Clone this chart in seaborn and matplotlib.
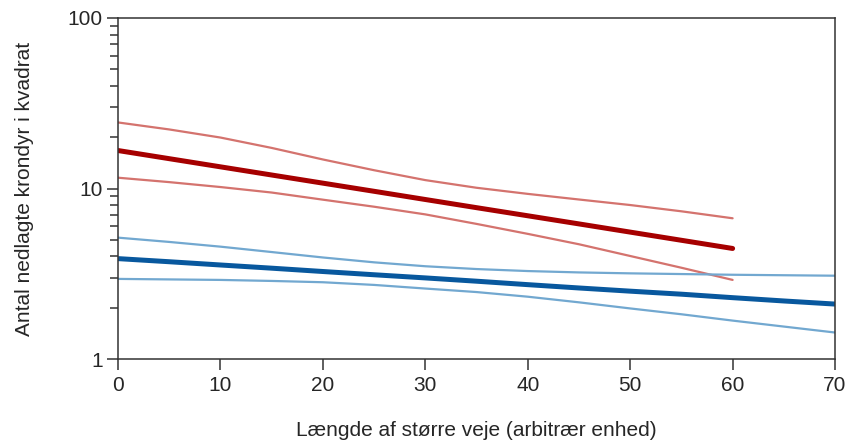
import numpy as np
import seaborn as sns
import matplotlib.pyplot as plt
from matplotlib.ticker import LogLocator, FixedLocator, NullFormatter

# data (x = vejlængde, y = antal krondyr)
x_red = [0, 5, 10, 15, 20, 25, 30, 35, 40, 45, 50, 55, 60]
red_mid = [16.7, 14.96, 13.4, 12.0, 10.75, 9.63, 8.62, 7.72, 6.92, 6.2, 5.55, 4.97, 4.45]
red_hi = [24.4, 22.2, 19.9, 17.3, 14.8, 12.8, 11.2, 10.1, 9.3, 8.62, 8.0, 7.35, 6.69]
red_lo = [11.57, 10.9, 10.2, 9.47, 8.6, 7.82, 7.05, 6.2, 5.42, 4.71, 4.02, 3.43, 2.91]

x_blue = [0, 5, 10, 15, 20, 25, 30, 35, 40, 45, 50, 55, 60, 65, 70]
blue_mid = [3.88, 3.72, 3.56, 3.41, 3.26, 3.12, 2.99, 2.86, 2.73, 2.61, 2.50, 2.40, 2.29, 2.19, 2.10]
blue_hi = [5.15, 4.86, 4.56, 4.24, 3.94, 3.69, 3.50, 3.37, 3.28, 3.22, 3.18, 3.15, 3.12, 3.10, 3.08]
blue_lo = [2.95, 2.93, 2.91, 2.87, 2.82, 2.72, 2.59, 2.47, 2.32, 2.15, 1.98, 1.83, 1.68, 1.55, 1.43]

sns.set_style("ticks")
plt.rcParams['font.family'] = ['Liberation Sans', 'DejaVu Sans']

fig = plt.figure(figsize=(8.54, 4.41), dpi=100)
ax = fig.add_axes([0.1382, 0.1859, 0.8396, 0.7733])

lys = "#d4736e"
mork = "#a60000"
lysbla = "#72a8d0"
morkbla = "#08589e"

sns.lineplot(x=x_red, y=red_hi, ax=ax, color=lys, lw=1.6)
sns.lineplot(x=x_red, y=red_lo, ax=ax, color=lys, lw=1.6)
sns.lineplot(x=x_blue, y=blue_hi, ax=ax, color=lysbla, lw=1.6)
sns.lineplot(x=x_blue, y=blue_lo, ax=ax, color=lysbla, lw=1.6)
sns.lineplot(x=x_red, y=red_mid, ax=ax, color=mork, lw=3.6, solid_capstyle='round')
sns.lineplot(x=x_blue, y=blue_mid, ax=ax, color=morkbla, lw=3.6, solid_capstyle='butt')

ax.set_yscale('log')
ax.set_ylim(1, 100)
ax.set_xlim(0, 70)
ax.set_xticks(range(0, 71, 10))
ax.yaxis.set_major_locator(FixedLocator([1, 10, 100]))
ax.set_yticklabels(['1', '10', '100'])
ax.yaxis.set_minor_locator(LogLocator(base=10, subs=np.arange(2, 10)))
ax.yaxis.set_minor_formatter(NullFormatter())

for s in ax.spines.values():
    s.set_linewidth(1.1)
    s.set_color('#333333')
ax.tick_params(axis='both', which='major', length=8, width=1.1, color='#333333',
               labelsize=15)
ax.tick_params(axis='y', which='minor', length=6, width=1.1, color='#333333')
ax.tick_params(axis='x', pad=4)
ax.tick_params(axis='y', pad=3)

ax.set_xlabel('Længde af større veje (arbitrær enhed)', fontsize=15, labelpad=19)
ax.set_ylabel('Antal nedlagte krondyr i kvadrat', fontsize=15, labelpad=24)

fig.savefig('out.png', dpi=100)
